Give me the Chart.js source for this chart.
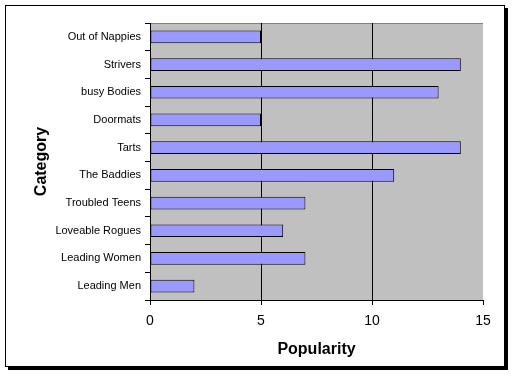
<!DOCTYPE html>
<html>
<head>
<meta charset="utf-8">
<script src="https://cdn.jsdelivr.net/npm/chart.js@4"></script>
<style>
  html, body { margin: 0; padding: 0; background: #fff; }
  #frame { position: absolute; left: 5px; top: 5px; width: 498px; height: 360px;
           border: 1px solid #000; box-shadow: 3px 3px 0 #000; background: #fff; }
  canvas { display: block; }
</style>
</head>
<body>
<div id="frame"><canvas id="c" width="498" height="360"></canvas></div>
<script>
const categories = ["Out of Nappies", "Strivers", "busy Bodies", "Doormats", "Tarts",
                    "The Baddies", "Troubled Teens", "Loveable Rogues", "Leading Women", "Leading Men"];
const popularity = [5, 14, 13, 5, 14, 11, 7, 6, 7, 2];
const xTicks = [0, 5, 10, 15];

const plotBg = {
  id: 'plotBg',
  beforeDraw(chart) {
    const a = chart.chartArea, ctx = chart.ctx;
    ctx.save();
    ctx.fillStyle = '#c0c0c0';
    ctx.fillRect(a.left, a.top, a.right - a.left, a.bottom - a.top);
    ctx.strokeStyle = '#808080';
    ctx.lineWidth = 1;
    ctx.beginPath();
    ctx.moveTo(a.left, a.top + 0.5);
    ctx.lineTo(a.right, a.top + 0.5);
    ctx.stroke();
    ctx.restore();
  }
};

new Chart(document.getElementById('c'), {
  type: 'bar',
  data: {
    labels: categories,
    datasets: [{
      data: popularity,
      backgroundColor: '#9999ff',
      borderColor: '#000',
      borderWidth: 1,
      borderSkipped: false,
      categoryPercentage: 1,
      barPercentage: 0.46
    }]
  },
  options: {
    indexAxis: 'y',
    responsive: false,
    animation: false,
    layout: { padding: { left: 26, right: 21, top: 17, bottom: 7 } },
    plugins: { legend: { display: false }, tooltip: { enabled: false } },
    scales: {
      x: {
        min: 0, max: 15,
        afterBuildTicks(s) { s.ticks = xTicks.map(v => ({ value: v })); },
        afterFit(s) { s.height = 59; },
        grid: {
          color: ctx => (ctx.tick && ctx.tick.value === 15) ? 'rgba(0,0,0,0)' : '#000',
          tickColor: '#000',
          tickLength: 5,
          lineWidth: 1
        },
        border: { color: '#000', width: 1 },
        ticks: { color: '#000', padding: 8, font: { family: 'Liberation Sans, Arial', size: 14 } },
        title: { display: true, text: 'Popularity', color: '#000',
                 padding: { top: 4, bottom: 0 },
                 font: { family: 'Liberation Sans, Arial', size: 16, weight: 'bold' } }
      },
      y: {
        afterFit(s) { s.width = 118; },
        grid: { drawOnChartArea: false, tickColor: '#000', tickLength: 5, offset: true },
        border: { color: '#000', width: 1 },
        ticks: { color: '#000', padding: 4, font: { family: 'Liberation Sans, Arial', size: 11 } },
        title: { display: true, text: 'Category', color: '#000',
                 padding: { top: 0, bottom: 0 },
                 font: { family: 'Liberation Sans, Arial', size: 16, weight: 'bold' } }
      }
    }
  },
  plugins: [plotBg]
});
</script>
</body>
</html>
